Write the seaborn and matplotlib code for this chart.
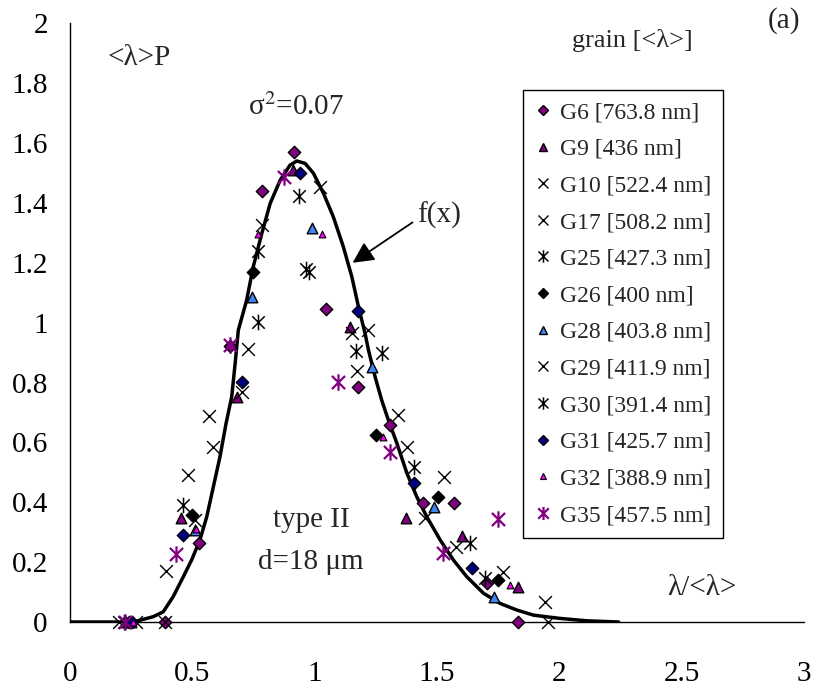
import numpy as np
import pandas as pd
import matplotlib
matplotlib.use("Agg")
import matplotlib.pyplot as plt
import seaborn as sns
from matplotlib.path import Path
from matplotlib.lines import Line2D
from matplotlib.ticker import MultipleLocator

# ---------------- data ----------------
fx_x = [0.0, 0.259, 0.341, 0.381, 0.422, 0.463, 0.497, 0.531, 0.559, 0.586, 0.613, 0.638, 0.661,
        0.675, 0.688, 0.722, 0.749, 0.784, 0.818, 0.859, 0.899, 0.927, 0.961, 0.995, 1.036,
        1.076, 1.117, 1.152, 1.179, 1.206, 1.220, 1.247, 1.274, 1.301, 1.336, 1.377, 1.417,
        1.458, 1.513, 1.567, 1.622, 1.690, 1.758, 1.826, 1.894, 1.962, 2.003, 2.112, 2.242]
fx_y = [0.0, 0.0, 0.018, 0.034, 0.085, 0.151, 0.207, 0.274, 0.352, 0.452, 0.552, 0.664, 0.753,
        0.864, 0.975, 1.075, 1.187, 1.298, 1.398, 1.476, 1.526, 1.540, 1.532, 1.499, 1.432,
        1.354, 1.254, 1.153, 1.053, 0.964, 0.908, 0.819, 0.741, 0.675, 0.597, 0.497, 0.419,
        0.352, 0.274, 0.207, 0.151, 0.096, 0.062, 0.040, 0.023, 0.016, 0.012, 0.004, 0.0]

G6_x = [0.388, 0.527, 0.654, 0.784, 0.917, 1.047, 1.179, 1.308, 1.442, 1.570, 1.704, 1.833]
G6_y = [0.0, 0.265, 0.922, 1.441, 1.571, 1.044, 0.784, 0.658, 0.398, 0.398, 0.131, 0.0]
G9_x = [0.230, 0.454, 0.684, 0.912, 1.145, 1.374, 1.601, 1.833]
G9_y = [0.0, 0.346, 0.753, 1.510, 0.986, 0.346, 0.287, 0.116]
G10_x = [0.200, 0.484, 0.726, 1.022, 1.220, 1.379, 1.577, 1.942]
G10_y = [0.0, 0.491, 0.912, 1.453, 0.975, 0.584, 0.252, 0.068]
G17_x = [0.270, 0.570, 0.784, 1.152, 1.342, 1.529, 1.771, 1.955]
G17_y = [0.0, 0.688, 1.326, 0.964, 0.691, 0.483, 0.168, 0.0]
G25_x = [0.463, 0.770, 0.937, 0.963, 1.169, 1.404, 1.697]
G25_y = [0.391, 1.240, 1.423, 1.180, 0.906, 0.519, 0.146]
G26_x = [0.240, 0.497, 0.749, 1.251, 1.506, 1.749]
G26_y = [0.0, 0.357, 1.170, 0.625, 0.419, 0.140]
G28_x = [0.250, 0.511, 0.743, 0.989, 1.233, 1.488, 1.731]
G28_y = [0.0, 0.307, 1.087, 1.315, 0.853, 0.383, 0.085]
G29_x = [0.388, 0.392, 0.511, 0.586, 0.705, 1.175, 1.451]
G29_y = [0.0, 0.171, 0.341, 0.586, 0.770, 0.839, 0.346]
G30_x = [0.220, 0.770, 0.975, 1.274, 1.635]
G30_y = [0.0, 1.003, 1.170, 0.897, 0.263]
G31_x = [0.252, 0.463, 0.705, 0.940, 1.179, 1.408, 1.642]
G31_y = [0.0, 0.291, 0.803, 1.500, 1.039, 0.465, 0.179]
G32_x = [0.256, 0.515, 0.767, 1.031, 1.281, 1.799]
G32_y = [0.0, 0.310, 1.295, 1.295, 0.617, 0.124]
G35_x = [0.225, 0.433, 0.654, 0.875, 1.094, 1.308, 1.526, 1.749]
G35_y = [0.0, 0.227, 0.925, 1.487, 0.803, 0.569, 0.229, 0.344]

labels = ["G6 [763.8 nm]", "G9 [436 nm]", "G10 [522.4 nm]", "G17 [508.2 nm]",
          "G25 [427.3 nm]", "G26 [400 nm]", "G28 [403.8 nm]", "G29 [411.9 nm]",
          "G30 [391.4 nm]", "G31 [425.7 nm]", "G32 [388.9 nm]", "G35 [457.5 nm]"]

# ---------------- style ----------------
sns.set_theme(style="white")
plt.rcParams['font.family'] = ['Liberation Serif', 'DejaVu Serif']
plt.rcParams['mathtext.fontset'] = 'stix'

ast = Path([(0, -1), (0, 1), (-0.8, -0.8), (0.8, 0.8), (-0.8, 0.8), (0.8, -0.8)],
           [Path.MOVETO, Path.LINETO, Path.MOVETO, Path.LINETO, Path.MOVETO, Path.LINETO])

PURPLE = "#800080"
BLUE = "#3F86F2"
NAVY = "#000080"
MAG = "#FF00FF"

# series spec: x, y, marker, face, edge, size, lw
series = [
    (G6_x, G6_y, "D", PURPLE, "black", 40, 1.0),
    (G9_x, G9_y, "^", PURPLE, "black", 58, 1.0),
    (G10_x, G10_y, "x", "black", "black", 85, 1.0),
    (G17_x, G17_y, "x", "black", "black", 85, 1.0),
    (G25_x, G25_y, ast, "black", "black", 125, 1.1),
    (G26_x, G26_y, "D", "black", "black", 40, 1.0),
    (G28_x, G28_y, "^", BLUE, "black", 58, 1.0),
    (G29_x, G29_y, "x", "black", "black", 85, 1.0),
    (G30_x, G30_y, ast, "black", "black", 125, 1.1),
    (G31_x, G31_y, "D", NAVY, "black", 40, 1.0),
    (G32_x, G32_y, "^", MAG, "black", 24, 0.8),
    (G35_x, G35_y, ast, PURPLE, PURPLE, 140, 1.6),
]

fig = plt.figure(figsize=(8.14, 6.86), dpi=100)
ax = fig.add_axes([70 / 814, 64 / 686, 734 / 814, 598.7 / 686])

curve = pd.DataFrame({"x": fx_x, "y": fx_y})
sns.lineplot(data=curve, x="x", y="y", ax=ax, color="black", linewidth=2.5,
             sort=False, zorder=2)

for (xs, ys, mk, fc, ec, s, lw) in series:
    df = pd.DataFrame({"x": xs, "y": ys})
    if mk == "x":
        sns.scatterplot(data=df, x="x", y="y", ax=ax, marker=mk, color=fc, s=s,
                        linewidth=lw, zorder=3, clip_on=False)
    else:
        sns.scatterplot(data=df, x="x", y="y", ax=ax, marker=mk, color=fc,
                        edgecolor=ec, s=s, linewidth=lw, zorder=3, clip_on=False)

ax.set_xlim(0, 3)
ax.set_ylim(0, 2)
ax.set_xlabel("")
ax.set_ylabel("")
ax.xaxis.set_minor_locator(MultipleLocator(0.1))
ax.yaxis.set_minor_locator(MultipleLocator(0.04))
ax.set_xticks([0, 0.5, 1, 1.5, 2, 2.5, 3])
ax.set_xticklabels(["0", "0.5", "1", "1.5", "2", "2.5", "3"])
ax.set_yticks([0, 0.2, 0.4, 0.6, 0.8, 1, 1.2, 1.4, 1.6, 1.8, 2])
ax.set_yticklabels(["0", "0.2", "0.4", "0.6", "0.8", "1", "1.2", "1.4", "1.6", "1.8", "2"])
for sp in ["top", "right"]:
    ax.spines[sp].set_visible(False)
for sp in ["left", "bottom"]:
    ax.spines[sp].set_color("black")
    ax.spines[sp].set_linewidth(1.0)
ax.tick_params(axis="both", which="major", direction="in", length=6.5, width=1,
               color="black", labelsize=21, labelcolor="black")
ax.tick_params(axis="both", which="minor", direction="in", length=3.6, width=1,
               color="black")
ax.tick_params(axis="x", which="major", pad=28)
ax.tick_params(axis="y", which="major", pad=16)
ax.grid(False)

# annotations
ax.text(0.155, 1.885, "<λ>P", fontsize=21, ha="left", va="center")
ax.text(0.925, 1.72, "σ$^{2}$=0.07", fontsize=21, ha="center", va="center")
ax.text(0.985, 0.34, "type II", fontsize=21, ha="center", va="center")
ax.text(0.985, 0.20, "d=18 μm", fontsize=21, ha="center", va="center")
ax.text(2.44, 0.113, "λ/<λ>", fontsize=21, ha="left", va="center")
ax.text(1.42, 1.36, "f(x)", fontsize=21, ha="left", va="center")
ax.annotate("", xy=(1.155, 1.20), xytext=(1.40, 1.335),
            arrowprops=dict(arrowstyle="-|>", mutation_scale=32, lw=1.3, color="black",
                            shrinkA=0, shrinkB=0))
fig.text(0.983, 0.97, "(a)", fontsize=21, ha="right", va="center")
fig.text(632 / 814, 1 - 40 / 686, "grain [<λ>]", fontsize=19, ha="center", va="center")

# legend
handles = []
for (xs, ys, mk, fc, ec, s, lw) in series:
    ms = np.sqrt(s) * 0.8
    if mk == "x":
        h = Line2D([], [], linestyle="none", marker="x", color=fc, markersize=ms,
                   markeredgewidth=lw)
    elif mk is ast:
        h = Line2D([], [], linestyle="none", marker=ast, color=fc, markersize=ms,
                   markeredgecolor=ec, markerfacecolor="none", markeredgewidth=lw)
    else:
        h = Line2D([], [], linestyle="none", marker=mk, markerfacecolor=fc,
                   markeredgecolor=ec, markersize=ms, markeredgewidth=lw)
    handles.append(h)

leg = fig.legend(handles, labels, loc="lower left",
                 bbox_to_anchor=(523 / 814, (686 - 538) / 686),
                 fontsize=17, frameon=True, fancybox=False, framealpha=1,
                 edgecolor="black", handlelength=0.7, handletextpad=0.35,
                 borderpad=0.5, labelspacing=0.64, borderaxespad=0)
leg.get_frame().set_linewidth(1.0)

fig.savefig("out.png", dpi=100)
